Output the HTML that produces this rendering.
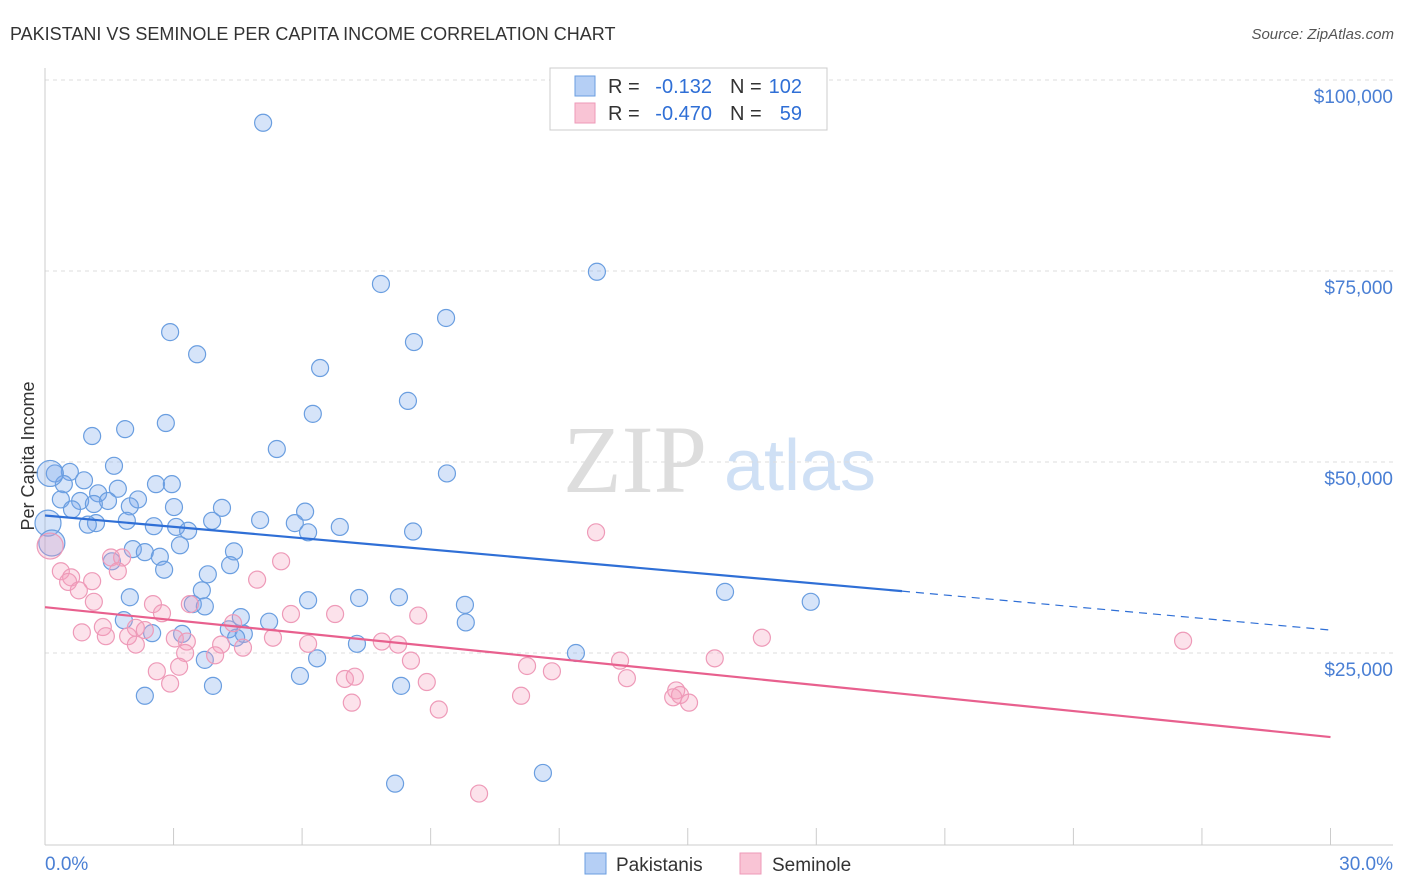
<!DOCTYPE html>
<html><head><meta charset="utf-8"><style>
body{margin:0;background:#fff;font-family:"Liberation Sans",sans-serif;}
#c{position:relative;width:1406px;height:892px;overflow:hidden;}
</style></head><body>
<div id="c">
<svg id="s" width="1406" height="892" xmlns="http://www.w3.org/2000/svg">
<text x="10" y="40" font-size="18" fill="#333">PAKISTANI VS SEMINOLE PER CAPITA INCOME CORRELATION CHART</text>
<text x="1394" y="39" font-size="15" fill="#555" font-style="italic" text-anchor="end">Source: ZipAtlas.com</text>
<text x="635" y="492" font-size="96" fill="#ddd" font-family="Liberation Serif" text-anchor="middle">ZIP</text>
<text x="800" y="490" font-size="72" fill="#cfe0f5" text-anchor="middle">atlas</text>
<text transform="translate(34,456) rotate(-90)" font-size="18" fill="#333" text-anchor="middle">Per Capita Income</text>
<g id="grid"></g><g id="marks"></g><g id="lines"></g>
<g>
<rect x="550" y="68" width="277" height="62" fill="#fff" stroke="#ccc"/>
<rect x="575" y="76" width="20" height="20" fill="#b5cff5" stroke="#6a9ee0"/>
<rect x="575" y="103" width="20" height="20" fill="#f9c4d5" stroke="#ee9ab8"/>
<text x="608" y="93" font-size="20" fill="#333">R =</text>
<text x="712" y="93" font-size="20" fill="#2f6fd6" text-anchor="end">-0.132</text>
<text x="730" y="93" font-size="20" fill="#333">N =</text>
<text x="802" y="93" font-size="20" fill="#2f6fd6" text-anchor="end">102</text>
<text x="608" y="120" font-size="20" fill="#333">R =</text>
<text x="712" y="120" font-size="20" fill="#2f6fd6" text-anchor="end">-0.470</text>
<text x="730" y="120" font-size="20" fill="#333">N =</text>
<text x="802" y="120" font-size="20" fill="#2f6fd6" text-anchor="end">59</text>
</g>
<g>
<rect x="585" y="853" width="21" height="21" fill="#b5cff5" stroke="#6a9ee0"/>
<text x="616" y="871" font-size="19" fill="#333">Pakistanis</text>
<rect x="740" y="853" width="21" height="21" fill="#f9c4d5" stroke="#ee9ab8"/>
<text x="772" y="871" font-size="19" fill="#333">Seminole</text>
</g>
<text x="45" y="870" font-size="19" fill="#4a7fd4">0.0%</text>
<text x="1393" y="870" font-size="19" fill="#4a7fd4" text-anchor="end">30.0%</text>
</svg></div>
<script>
const yTicks=[25000,50000,75000,100000];
const yTickLabels=["$25,000","$50,000","$75,000","$100,000"];
const xTicks=[0,3,6,9,12,15,18,21,24,27,30];
const pakX=[5.09,12.88,7.84,9.36,2.92,8.61,3.55,6.42,8.47,6.25,2.82,1.87,1.10,5.41,1.61,9.38,0.23,0.58,0.91,2.59,2.96,0.44,1.70,1.24,0.37,0.82,1.47,2.17,1.14,1.98,3.01,4.13,6.07,0.63,1.91,5.02,1.19,3.90,5.83,2.54,3.06,1.00,6.88,3.34,6.14,8.59,3.15,4.41,2.05,2.33,2.68,4.32,1.56,2.78,3.80,3.66,7.33,8.26,15.87,17.87,1.98,6.14,3.45,3.73,9.80,4.57,5.23,9.82,1.84,2.50,3.20,4.29,4.64,4.46,7.28,12.39,3.73,6.35,5.95,3.92,8.31,2.33,11.62,8.17,0.12,0.07,0.16];
const pakY=[94400,74900,73300,68850,67000,65700,64100,62300,58000,56300,55100,54300,53400,51700,49500,48500,48500,48700,47600,47100,47100,47100,46500,45900,45100,44900,44900,45100,44500,44200,44100,44000,43500,43800,42300,42400,42000,42300,42000,41600,41500,41800,41500,41000,40800,40900,39100,38300,38600,38200,37600,36500,37000,35900,35300,33200,32200,32300,33000,31700,32300,31900,31400,31100,31300,29700,29100,29000,29300,27600,27500,28100,27500,27000,26200,25000,24100,24300,22000,20700,20700,19400,9300,7900,48500,42000,39400];
const semX=[12.86,1.54,1.80,5.51,0.37,1.70,0.61,4.95,1.10,0.54,0.79,2.52,1.14,3.38,2.73,5.74,6.77,8.71,4.39,1.35,0.86,2.12,2.33,1.42,1.94,3.03,3.31,4.11,5.32,6.14,7.86,8.24,16.73,26.56,2.12,3.97,3.27,4.62,8.54,13.42,15.63,11.25,3.13,2.61,11.83,13.58,7.00,7.23,8.91,2.92,14.73,14.82,14.66,11.11,7.16,15.03,9.19,10.13,0.12];
const semY=[40800,37500,37500,37000,35700,35700,34900,34600,34400,34300,33200,31400,31700,31400,30200,30100,30100,29900,28900,28400,27700,28300,28000,27200,27200,26900,26500,26100,27000,26200,26500,26100,27000,26600,26100,24700,25000,25700,24000,24000,24300,23300,23200,22600,22600,21700,21600,21900,21200,21000,20100,19500,19200,19400,18500,18500,17600,6600,39000];
const pakLine=[[0,43000],[20,33100]],pakDash=[[20,33100],[30,28000]],semLine=[[0,31000],[30,14000]];
const X=v=>45+v*42.85, Y=v=>844-v/25000*191;
const NS="http://www.w3.org/2000/svg";
function mk(t,a,p){const e=document.createElementNS(NS,t);for(const k in a)e.setAttribute(k,a[k]);p.appendChild(e);return e;}
const grid=document.getElementById('grid'),marks=document.getElementById('marks'),lines=document.getElementById('lines');
yTicks.forEach((v,i)=>{const l=mk('line',{x1:45,x2:1393,y1:Y(v),y2:Y(v),stroke:'#ddd','stroke-dasharray':'4,4'},grid);


const t=mk('text',{x:1393,y:Y(v)+23,'font-size':19,fill:'#4a7fd4','text-anchor':'end'},grid);t.textContent=yTickLabels[i];

});
const ax=mk('line',{x1:45,x2:45,y1:68,y2:845,stroke:'#ccc'},grid);


const bx=mk('line',{x1:45,x2:1393,y1:845,y2:845,stroke:'#ccc'},grid);


xTicks.forEach(v=>{const l=mk('line',{x1:X(v),x2:X(v),y1:828,y2:845,stroke:'#ccc'},grid);

});
function pts(xs,ys,fill,stroke,name){xs.forEach((x,i)=>{const c=mk('circle',{cx:X(x),cy:Y(ys[i]),r:(x<0.2?13:8.5),fill:fill,stroke:stroke,'stroke-width':1.2},marks);

});}
pts(pakX,pakY,'rgba(120,165,235,0.3)','#6a9ee0','point-pakistani');
pts(semX,semY,'rgba(245,160,190,0.3)','#ee9ab8','point-seminole');
function ln(p,col,dash,name){const l=mk('line',{x1:X(p[0][0]),y1:Y(p[0][1]),x2:X(p[1][0]),y2:Y(p[1][1]),stroke:col,'stroke-width':dash?1.2:2.2},lines);
if(dash)l.setAttribute('stroke-dasharray','8,6');

}
ln(pakLine,'#2f6fd6',false,'trend-pakistani');
ln(pakDash,'#2f6fd6',true,'trend-pakistani-extrapolated');
ln(semLine,'#e8608e',false,'trend-seminole');
</script>
</body></html>
